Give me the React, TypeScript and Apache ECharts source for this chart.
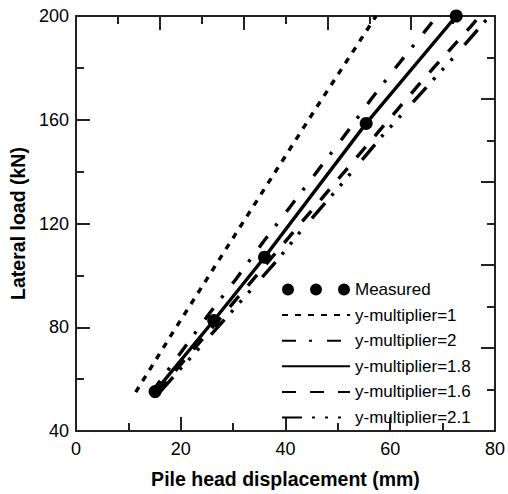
import React, { useEffect, useRef } from "react";
import * as echarts from "echarts";

const xTicks = [0, 20, 40, 60, 80];
const yTicks = [40, 80, 120, 160, 200];

const measured: number[][] = [
  [15.1, 55.2], [26.3, 82.6], [36.0, 107.0], [55.4, 158.6], [72.6, 200.0],
];
const yMult1: number[][] = [
  [11.4, 55], [18.5, 78], [27.0, 105], [36.5, 135], [46.0, 165], [57.3, 200],
];
const yMult2: number[][] = [
  [14.5, 55], [25.2, 84.6], [30.6, 98.7], [35.7, 112.8], [40.8, 126.2],
  [51.2, 153.7], [56.3, 167.8], [61.7, 181.8], [67.1, 195.3], [68.9, 200],
];
const yMult18: number[][] = [
  [15.0, 55], [26.3, 82.6], [36.0, 107.0], [55.4, 158.6], [72.6, 200],
];
const yMult16: number[][] = [
  [15.5, 55], [26.5, 81], [37.0, 106], [47.5, 131], [57.6, 155],
  [66.5, 176], [75.4, 196], [77.1, 200],
];
const yMult21: number[][] = [
  [16.0, 55], [27.5, 81], [38.5, 106], [43.3, 118], [50.0, 133.5],
  [58.7, 154.3], [62.2, 162], [68.5, 176.1], [72.0, 183.8], [78.2, 198.2], [79.0, 200],
];

const FONT = "'Liberation Sans', Arial, Helvetica, sans-serif";
const AX = "#222";

const threeDots =
  "path://M0,7a6,6 0 1,0 12,0a6,6 0 1,0 -12,0Z M28,7a6,6 0 1,0 12,0a6,6 0 1,0 -12,0Z M56,7a6,6 0 1,0 12,0a6,6 0 1,0 -12,0Z";

const hiddenSymbol = {
  color: "rgba(0,0,0,0)",
  borderColor: "rgba(0,0,0,0)",
  borderWidth: 0,
  opacity: 0,
};

export default function App() {
  const ref = useRef<HTMLDivElement>(null);
  useEffect(() => {
    if (!ref.current) return;
    const chart = echarts.init(ref.current, undefined, { renderer: "svg" });
    const lineSeries = (name: string, data: number[][], type: any, width = 3.4) => ({
      name,
      type: "line",
      data,
      symbol: "none",
      smooth: false,
      lineStyle: { color: "#000", width, type, cap: "butt" },
      itemStyle: { color: "#000" },
      z: 3,
    });
    chart.setOption({
      animation: false,
      backgroundColor: "#fff",
      grid: { left: 76, right: 12, top: 16, bottom: 61, containLabel: false },
      legend: {
        show: true,
        orient: "vertical",
        left: 276,
        top: 276,
        itemWidth: 68,
        itemHeight: 16,
        itemGap: 8.6,
        selectedMode: false,
        textStyle: { fontSize: 17, color: "#000", fontFamily: FONT },
        data: [
          { name: "Measured", icon: threeDots, itemStyle: { color: "#000", opacity: 1 } },
          { name: "y-multiplier=1", itemStyle: hiddenSymbol },
          { name: "y-multiplier=2", itemStyle: hiddenSymbol },
          { name: "y-multiplier=1.8", itemStyle: hiddenSymbol },
          { name: "y-multiplier=1.6", itemStyle: hiddenSymbol },
          { name: "y-multiplier=2.1", itemStyle: hiddenSymbol },
        ],
      },
      xAxis: [
        {
          type: "value",
          position: "bottom",
          min: xTicks[0],
          max: xTicks[xTicks.length - 1],
          interval: 20,
          name: "Pile head displacement (mm)",
          nameLocation: "middle",
          nameGap: 38,
          nameTextStyle: { fontSize: 19.5, fontWeight: "bold", color: "#000", fontFamily: FONT },
          axisLine: { show: true, onZero: false, lineStyle: { color: AX, width: 2 } },
          axisTick: { show: true, inside: true, length: 14, lineStyle: { color: AX, width: 2 } },
          minorTick: { show: true, splitNumber: 2, length: 8, lineStyle: { color: AX, width: 2 } },
          axisLabel: { fontSize: 18, color: "#000", fontFamily: FONT, margin: 9 },
          splitLine: { show: false },
        },
        {
          type: "value",
          position: "top",
          min: 0,
          max: 100,
          interval: 20,
          axisLine: { show: true, onZero: false, lineStyle: { color: AX, width: 2 } },
          axisTick: { show: true, inside: true, length: 14, lineStyle: { color: AX, width: 2 } },
          minorTick: { show: true, splitNumber: 2, length: 8, lineStyle: { color: AX, width: 2 } },
          axisLabel: { show: false },
          splitLine: { show: false },
        },
      ],
      yAxis: [
        {
          type: "value",
          position: "left",
          min: yTicks[0],
          max: yTicks[yTicks.length - 1],
          interval: 40,
          name: "Lateral load (kN)",
          nameLocation: "middle",
          nameGap: 46,
          nameTextStyle: { fontSize: 19.5, fontWeight: "bold", color: "#000", fontFamily: FONT },
          axisLine: { show: true, onZero: false, lineStyle: { color: AX, width: 2 } },
          axisTick: { show: true, inside: true, length: 14, lineStyle: { color: AX, width: 2 } },
          minorTick: { show: true, splitNumber: 2, length: 8, lineStyle: { color: AX, width: 2 } },
          axisLabel: { fontSize: 18, color: "#000", fontFamily: FONT, margin: 7 },
          splitLine: { show: false },
        },
        {
          type: "value",
          position: "right",
          min: 0,
          max: 100,
          interval: 20,
          axisLine: { show: true, onZero: false, lineStyle: { color: AX, width: 2 } },
          axisTick: { show: true, inside: true, length: 14, lineStyle: { color: AX, width: 2 } },
          minorTick: { show: true, splitNumber: 2, length: 8, lineStyle: { color: AX, width: 2 } },
          axisLabel: { show: false },
          splitLine: { show: false },
        },
      ],
      series: [
        {
          name: "Measured",
          type: "scatter",
          data: measured,
          symbol: "circle",
          symbolSize: 13,
          itemStyle: { color: "#000", opacity: 1 },
          z: 5,
        },
        lineSeries("y-multiplier=1", yMult1, [6, 7]),
        lineSeries("y-multiplier=2", yMult2, [14, 13, 3, 15]),
        lineSeries("y-multiplier=1.8", yMult18, "solid"),
        lineSeries("y-multiplier=1.6", yMult16, [14, 14]),
        lineSeries("y-multiplier=2.1", yMult21, [20, 10, 3, 10, 3, 10, 3, 18]),
      ],
    });
    return () => chart.dispose();
  }, []);
  return (
    <div
      ref={ref}
      style={{ position: "fixed", left: 0, top: 0, width: 508, height: 494, background: "#fff" }}
    />
  );
}
